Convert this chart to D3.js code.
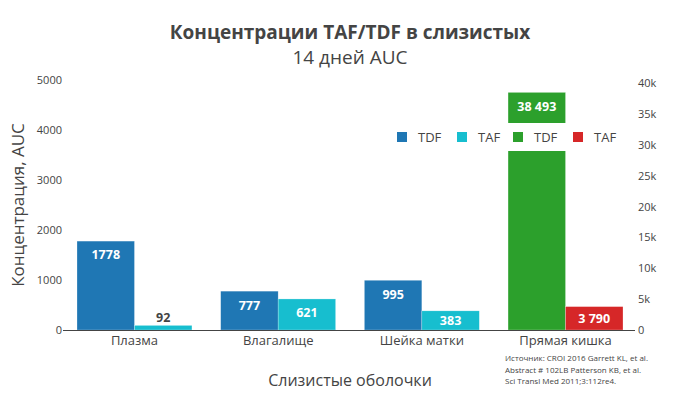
<!DOCTYPE html>
<html>
<head>
<meta charset="utf-8">
<script src="https://cdn.jsdelivr.net/npm/d3@7"></script>
<style>
body { margin: 0; background: #fff; }
text { font-family: "Open Sans", sans-serif; fill: #444; }
</style>
</head>
<body>
<script>
var categories = ["Плазма", "Влагалище", "Шейка матки", "Прямая кишка"];
var tdfLeft = [1778, 777, 995, null];
var tafLeft = [92, 621, 383, null];
var tdfRight = [null, null, null, 38493];
var tafRight = [null, null, null, 3790];
var leftTicks = [0, 1000, 2000, 3000, 4000, 5000];
var rightTicks = [0, 5000, 10000, 15000, 20000, 25000, 30000, 35000, 40000];
var legendNames = ["TDF", "TAF", "TDF", "TAF"];
var colors = ["#1f77b4", "#17becf", "#2ca02c", "#d62728"];
var sourceLines = ["Источник: CROI 2016 Garrett KL, et al.",
	"Abstract # 102LB Patterson KB, et al.",
	"Sci Transl Med 2011;3:112re4."];

var width = 700, height = 393,
	margin = {top: 80, right: 77, bottom: 63, left: 77},
	plotW = width - margin.left - margin.right,
	plotH = height - margin.top - margin.bottom;

var svg = d3.select("body").append("svg")
	.attr("width", width)
	.attr("height", height);

var x = d3.scaleBand().domain(categories)
	.range([margin.left, width - margin.right])
	.paddingInner(0.2).paddingOuter(0);
var xs = d3.scaleBand().domain([0, 1]).range([0, x.bandwidth()]);

var yL = d3.scaleLinear().domain([0, 5000]).range([height - margin.bottom, margin.top]);
var yR = d3.scaleLinear().domain([0, 40500]).range([height - margin.bottom, margin.top]);

var spaced = function(v) { return d3.format(",d")(v).replace(",", " "); };
var series = [
	{vals: tdfLeft, y: yL, slot: 0, color: colors[0], fmt: d3.format("d")},
	{vals: tafLeft, y: yL, slot: 1, color: colors[1], fmt: d3.format("d")},
	{vals: tdfRight, y: yR, slot: 0, color: colors[2], fmt: spaced},
	{vals: tafRight, y: yR, slot: 1, color: colors[3], fmt: spaced}
];

// bars
series.forEach(function(s) {
	var pts = s.vals.map(function(v, i) { return {cat: categories[i], v: v}; })
		.filter(function(d) { return d.v != null; });
	var g = svg.append("g");
	g.selectAll("rect").data(pts).enter().append("rect")
		.attr("x", function(d) { return x(d.cat) + xs(s.slot); })
		.attr("width", xs.bandwidth())
		.attr("y", function(d) { return s.y(d.v); })
		.attr("height", function(d) { return s.y(0) - s.y(d.v); })
		.style("fill", s.color)
		.style("stroke", "rgba(255,255,255,0.5)")
		.style("stroke-width", 0.5);
	g.selectAll("text").data(pts).enter().append("text")
		.attr("x", function(d) { return x(d.cat) + xs(s.slot) + xs.bandwidth() / 2; })
		.attr("y", function(d) {
			var top = s.y(d.v), h = s.y(0) - top;
			if (h < 16) return top - 8;
			return top + Math.min(14, h / 2);
		})
		.attr("dy", "0.35em")
		.attr("text-anchor", "middle")
		.style("font-size", "12.5px")
		.style("font-weight", "bold")
		.style("fill", function(d) { return (s.y(0) - s.y(d.v)) < 16 ? "#444" : "#fff"; })
		.text(function(d) { return s.fmt(d.v); });
});

// axes
var gL = svg.append("g")
	.attr("transform", "translate(" + margin.left + ",0)")
	.call(d3.axisLeft(yL).tickValues(leftTicks).tickSize(0).tickPadding(15).tickFormat(d3.format("d")));
var gR = svg.append("g")
	.attr("transform", "translate(" + (width - margin.right) + ",0)")
	.call(d3.axisRight(yR).tickValues(rightTicks).tickSize(0).tickPadding(15)
		.tickFormat(function(d) { return d === 0 ? "0" : (d / 1000) + "k"; }));
[gL, gR].forEach(function(g) {
	g.select(".domain").remove();
	g.selectAll("text").style("font-size", "11px").style("fill", "#444").style("font-family", "Open Sans");
});

// zero line
svg.append("line")
	.attr("x1", margin.left - 14).attr("x2", width - margin.right + 12)
	.attr("y1", yL(0) + 0.5).attr("y2", yL(0) + 0.5)
	.style("stroke", "#444").style("stroke-width", 1);

var gX = svg.append("g")
	.attr("transform", "translate(0," + (height - margin.bottom) + ")")
	.call(d3.axisBottom(x).tickSize(0).tickPadding(6));
gX.select(".domain").remove();
gX.selectAll("text").style("font-size", "13px").style("fill", "#444").style("font-family", "Open Sans");

// legend
var legX = [397, 457, 513, 573];
var leg = svg.append("g");
leg.append("rect")
	.attr("x", 385).attr("y", 123).attr("width", 240).attr("height", 28)
	.style("fill", "#fff");
legendNames.forEach(function(n, i) {
	leg.append("rect")
		.attr("x", legX[i]).attr("y", 132).attr("width", 10).attr("height", 10)
		.style("fill", colors[i]);
	leg.append("text")
		.attr("x", legX[i] + 21).attr("y", 137).attr("dy", "0.35em")
		.style("font-size", "13px")
		.text(n);
});

// titles
svg.append("text")
	.attr("x", width / 2).attr("y", 39)
	.attr("text-anchor", "middle")
	.style("font-size", "19px").style("font-weight", "bold")
	.text("Концентрации TAF/TDF в слизистых");
svg.append("text")
	.attr("x", width / 2).attr("y", 64)
	.attr("text-anchor", "middle")
	.style("font-size", "19px")
	.text("14 дней AUC");

svg.append("text")
	.attr("transform", "rotate(-90)")
	.attr("x", -(margin.top + plotH / 2)).attr("y", 24)
	.attr("text-anchor", "middle")
	.style("font-size", "17px")
	.text("Концентрация, AUC");

svg.append("text")
	.attr("x", width / 2).attr("y", 386)
	.attr("text-anchor", "middle")
	.style("font-size", "16px")
	.text("Слизистые оболочки");

svg.append("g").selectAll("text").data(sourceLines).enter().append("text")
	.attr("x", 505)
	.attr("y", function(d, i) { return 361 + i * 11.5; })
	.style("font-size", "8px")
	.text(function(d) { return d; });
</script>
</body>
</html>
